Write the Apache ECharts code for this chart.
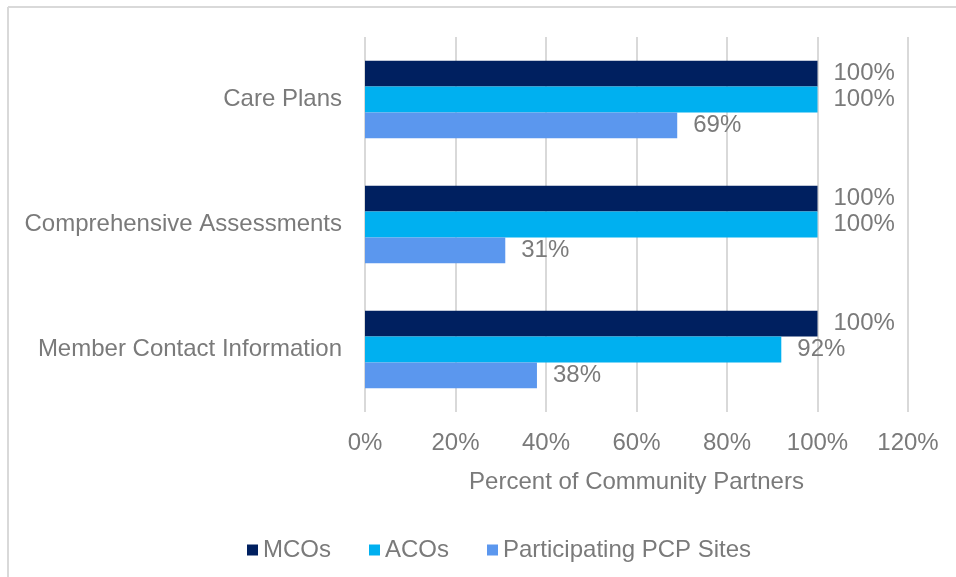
<!DOCTYPE html>
<html lang="en">
<head>
    <meta charset="UTF-8">
    <title>Community Partners</title>
    <script src="https://cdn.jsdelivr.net/npm/echarts@6/dist/echarts.min.js"></script>
    <style>
        html, body { margin: 0; padding: 0; background: #fff; }
        #main { width: 956px; height: 577px; }
    </style>
</head>
<body>
<div id="main"></div>
<script>
    // data
    var categories = ['Care Plans', 'Comprehensive Assessments', 'Member Contact Information'];
    var seriesNames = ['MCOs', 'ACOs', 'Participating PCP Sites'];
    var mcos = [100, 100, 100];
    var acos = [100, 100, 92];
    var pcpSites = [69, 31, 38];
    var tickLabels = ['0%', '20%', '40%', '60%', '80%', '100%', '120%'];
    var colors = ['#002060', '#00B0F0', '#5B97EE'];

    var myChart = echarts.init(document.getElementById('main'));
    var font = 'Liberation Sans, Arial, sans-serif';
    var grey = '#7a7a7a';
    var fs = 24;

    function makeSeries(name, values, color) {
        return {
            name: name,
            type: 'bar',
            data: values,
            barGap: 0,
            barCategoryGap: '38%',
            itemStyle: {color: color},
            label: {
                show: true,
                position: 'right',
                distance: 16,
                color: grey,
                fontSize: fs,
                fontFamily: font,
                formatter: '{c}%'
            }
        };
    }

    var option = {
        animation: false,
        color: colors,
        textStyle: {fontFamily: font},
        grid: {left: 365, right: 48, top: 37, bottom: 165},
        legend: {
            data: seriesNames,
            left: 242,
            top: 533,
            icon: 'rect',
            itemWidth: 11,
            itemHeight: 11,
            itemGap: 38,
            textStyle: {color: grey, fontSize: fs, fontFamily: font}
        },
        xAxis: {
            type: 'value',
            min: 0,
            max: 120,
            interval: 20,
            name: 'Percent of Community Partners',
            nameLocation: 'middle',
            nameGap: 58,
            nameTextStyle: {color: grey, fontSize: fs, fontFamily: font},
            axisLine: {show: false},
            axisTick: {show: false},
            axisLabel: {
                color: grey,
                fontSize: fs,
                fontFamily: font,
                margin: 19,
                formatter: function (v) { return tickLabels[Math.round(v / 20)]; }
            },
            splitLine: {show: true, lineStyle: {color: '#d9d9d9', width: 2}}
        },
        yAxis: {
            type: 'category',
            data: categories,
            inverse: true,
            axisLine: {show: false},
            axisTick: {show: false},
            axisLabel: {color: grey, fontSize: fs, fontFamily: font, margin: 23}
        },
        graphic: [
            {type: 'line', shape: {x1: 8, y1: 7, x2: 956, y2: 7}, style: {stroke: '#d9d9d9', lineWidth: 2}},
            {type: 'line', shape: {x1: 8, y1: 7, x2: 8, y2: 577}, style: {stroke: '#d9d9d9', lineWidth: 2}}
        ],
        series: [
            makeSeries(seriesNames[0], mcos, colors[0]),
            makeSeries(seriesNames[1], acos, colors[1]),
            makeSeries(seriesNames[2], pcpSites, colors[2])
        ]
    };

    myChart.setOption(option);
</script>
</body>
</html>
